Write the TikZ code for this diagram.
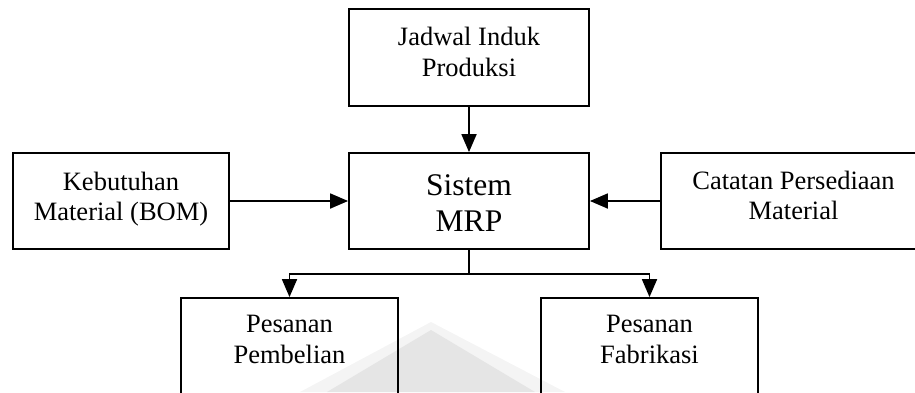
\documentclass[tikz,border=0pt]{standalone}
\usepackage{fontspec}
\setmainfont{Liberation Serif}
\usetikzlibrary{arrows.meta}

\begin{document}
\begin{tikzpicture}[x=1pt, y=-1pt,
  box/.style={draw, line width=1.8pt, rectangle, inner sep=0pt},
  txt/.style={align=center, inner sep=0pt, font=\fontsize{26.5}{30.5}\selectfont},
  bigtxt/.style={txt, font=\fontsize{31.5}{36}\selectfont},
  flow/.style={line width=1.8pt, -{Triangle[length=18pt, width=15pt]}}
]
  \useasboundingbox (0,0) rectangle (915,392);
  \clip (0,0) rectangle (915,392);

  % faint background emblem
  \fill[gray!9] (431,322) -- (300,392) -- (565,392) -- cycle;
  \fill[gray!20] (431,330) -- (327,392) -- (535,392) -- cycle;

  % boxes
  \node[box, minimum width=240pt, minimum height=97pt] (jip) at (469,57.5) {};
  \node[box, minimum width=240pt, minimum height=96pt] (mrp) at (469,201) {};
  \node[box, minimum width=216pt, minimum height=96pt] (bom) at (121,201) {};
  \node[box, minimum width=265pt, minimum height=96pt] (inv) at (793.5,201) {};
  \node[box, minimum width=217pt, minimum height=96pt] (beli) at (289.5,346) {};
  \node[box, minimum width=217pt, minimum height=96pt] (fab) at (649.5,346) {};

  % box texts
  \node[txt, yshift=5.5pt] (jipT) at (jip.center) {Jadwal Induk\\Produksi};
  \node[bigtxt, yshift=-2pt] (mrpT) at (mrp.center) {Sistem\\MRP};
  \node[txt, yshift=2pt] (bomT) at (bom.center) {Kebutuhan\\Material (BOM)};
  \node[txt, yshift=5.5pt] (invT) at (inv.center) {Catatan Persediaan\\Material};
  \node[txt, yshift=6.5pt] (beliT) at (beli.center) {Pesanan\\Pembelian};
  \node[txt, yshift=6.5pt] (fabT) at (fab.center) {Pesanan\\Fabrikasi};

  % connectors
  \draw[flow] (jip.south) -- (mrp.north);
  \draw[flow] (bom.east) -- (mrp.west);
  \draw[flow] (inv.west) -- (mrp.east);
  \draw[line width=1.8pt] (mrp.south) -- ++(0,24) coordinate (fork);
  \draw[flow] (fork) -| (beli.north);
  \draw[flow] (fork) -| (fab.north);
\end{tikzpicture}
\end{document}
